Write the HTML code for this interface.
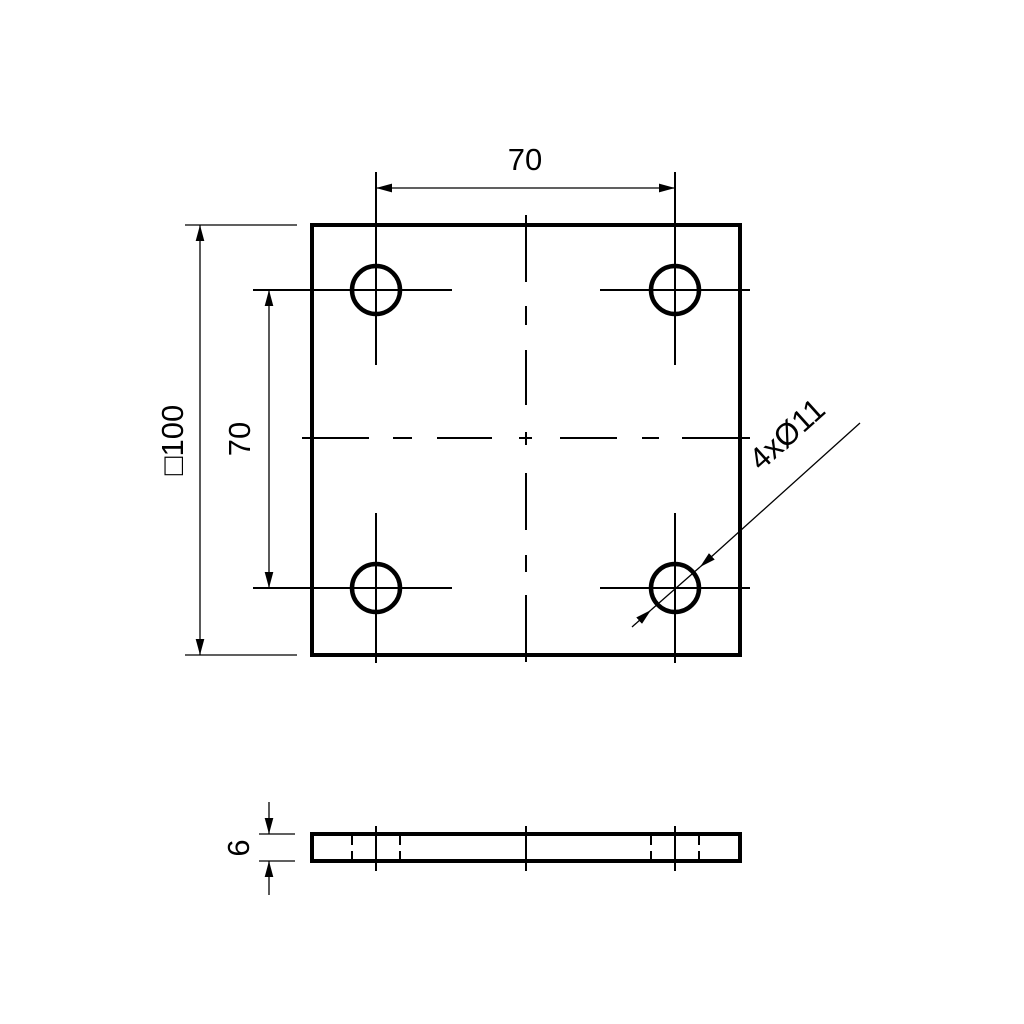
<!DOCTYPE html>
<html><head><style>
html,body{margin:0;padding:0;background:#fff;}
svg{display:block;}
text{font-family:"Liberation Sans",sans-serif;fill:#000;}
</style></head><body>
<svg width="1024" height="1024" viewBox="0 0 1024 1024" xmlns="http://www.w3.org/2000/svg">
<defs>
<marker id="a" viewBox="0 0 10 10" refX="10" refY="5" markerWidth="16" markerHeight="16" markerUnits="userSpaceOnUse" orient="auto-start-reverse">
<path d="M0,2.3 L10,5 L0,7.7 Z" fill="#000"/></marker>
</defs>
<rect x="312" y="225" width="428" height="430" fill="none" stroke="#000" stroke-width="4"/>
<g fill="none" stroke="#000" stroke-width="4.5">
<circle cx="376" cy="290" r="24"/><circle cx="675" cy="290" r="24"/>
<circle cx="376" cy="588" r="24"/><circle cx="675" cy="588" r="24"/>
</g>
<g stroke="#000" stroke-width="2">
<line x1="376" y1="172" x2="376" y2="365"/><line x1="675" y1="172" x2="675" y2="365"/>
<line x1="376" y1="513" x2="376" y2="663"/><line x1="675" y1="513" x2="675" y2="663"/>
<line x1="253" y1="290" x2="452" y2="290"/><line x1="600" y1="290" x2="750" y2="290"/>
<line x1="253" y1="588" x2="452" y2="588"/><line x1="600" y1="588" x2="750" y2="588"/>
<path d="M526 215V282M526 306V325M526 350V405M526 432V445M526 473V530M526 555V572M526 595V662"/>
<path d="M302 438H369M393 438H412M437 438H492M519 438H532M560 438H617M642 438H659M682 438H750"/>
</g>
<g stroke="#000" stroke-width="1.3" fill="none">
<line x1="376" y1="188" x2="675" y2="188" marker-start="url(#a)" marker-end="url(#a)"/>
<line x1="185" y1="225" x2="297" y2="225"/><line x1="185" y1="655" x2="297" y2="655"/>
<line x1="200" y1="225" x2="200" y2="655" marker-start="url(#a)" marker-end="url(#a)"/>
<line x1="269" y1="290" x2="269" y2="588" marker-start="url(#a)" marker-end="url(#a)"/>
<line x1="860" y1="423" x2="700" y2="567" marker-end="url(#a)"/>
<line x1="632" y1="627" x2="651" y2="610" marker-end="url(#a)"/>
<line x1="651" y1="610" x2="700" y2="567"/>
</g>
<text x="525" y="170" font-size="31" text-anchor="middle">70</text>
<text transform="translate(250,439) rotate(-90)" font-size="31" text-anchor="middle">70</text>
<text transform="translate(183,440) rotate(-90)" font-size="31" text-anchor="middle">□100</text>
<text transform="translate(794,442) rotate(-42)" font-size="31" text-anchor="middle">4xØ11</text>
<rect x="312" y="834" width="428" height="27" fill="none" stroke="#000" stroke-width="4"/>
<g stroke="#000" stroke-width="2">
<line x1="376" y1="826" x2="376" y2="871"/><line x1="526" y1="826" x2="526" y2="871"/><line x1="675" y1="826" x2="675" y2="871"/>
<path d="M352 836V845M352 851V860M400 836V845M400 851V860M651 836V845M651 851V860M699 836V845M699 851V860"/>
</g>
<g stroke="#000" stroke-width="1.3" fill="none">
<line x1="259" y1="834" x2="295" y2="834"/><line x1="259" y1="861" x2="295" y2="861"/>
<line x1="269" y1="802" x2="269" y2="834" marker-end="url(#a)"/>
<line x1="269" y1="895" x2="269" y2="861" marker-end="url(#a)"/>
</g>
<text transform="translate(249,848) rotate(-90)" font-size="31" text-anchor="middle">6</text>
</svg>
</body></html>
